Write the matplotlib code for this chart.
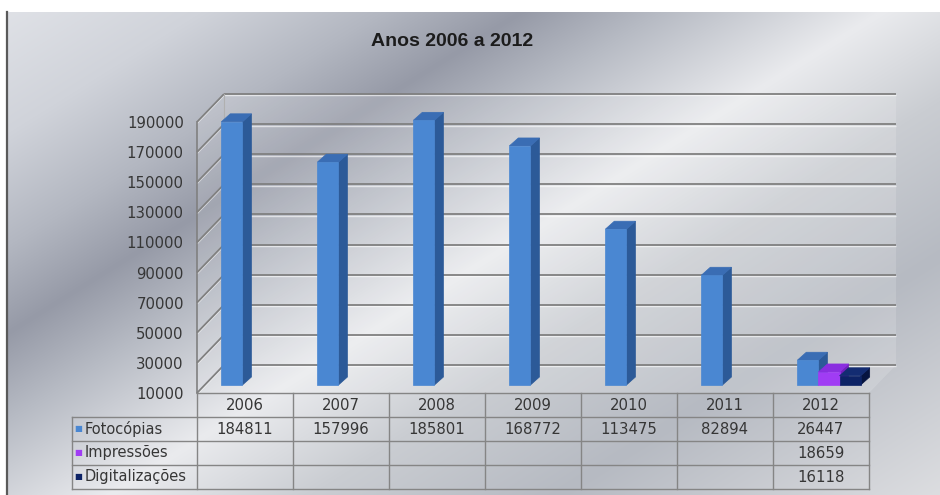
import numpy as np
import matplotlib
matplotlib.use('Agg')
import matplotlib.pyplot as plt
import matplotlib.transforms as mtransforms
from matplotlib.patches import Polygon, Rectangle
from matplotlib.lines import Line2D

# data
years = ['2006', '2007', '2008', '2009', '2010', '2011', '2012']
fotocopias = [184811, 157996, 185801, 168772, 113475, 82894, 26447]
impressoes = [None, None, None, None, None, None, 18659]
digitalizacoes = [None, None, None, None, None, None, 16118]
series_names = ['Fotocópias', 'Impressões', 'Digitalizações']
y_ticks = list(range(10000, 190001, 20000))

series = [fotocopias, impressoes, digitalizacoes]
# front, side, top colours for each series
face_colors = [
    ('#4a87d2', '#2c5a98', '#3a6db4'),
    ('#a03cf4', '#7420be', '#8a2ee0'),
    ('#0d2366', '#061440', '#132c72'),
]
text_color = '#363636'
grid_color = '#808080'

W, H = 940, 495
fig = plt.figure(figsize=(W / 100, H / 100), dpi=100)
fig.patch.set_facecolor('white')

# metallic backdrop: diagonal bands
bg = fig.add_axes([7 / W, 0, 1 - 7 / W, (H - 12) / H])
bg.axis('off')
xs = np.arange(7, W)
ys = np.arange(12, H)
gx, gy = np.meshgrid(xs, ys)
t = gx + 1.6 * gy
stops = [0, 220, 400, 540, 680, 900, 1100, 1350, 1740]
cols = ['#e1e3e8', '#d0d3da', '#b3b7c1', '#969aa7', '#b7bbc4',
        '#eaebee', '#cacdd2', '#b6bac2', '#dddee1']
rgb = np.array([matplotlib.colors.to_rgb(c) for c in cols])
img = np.dstack([np.interp(t, stops, rgb[:, k]) for k in range(3)])
bg.imshow(img, aspect='auto', extent=(0, 1, 0, 1), origin='upper')
bg.set_xlim(0, 1)
bg.set_ylim(0, 1)
fig.add_artist(Line2D([7 / W, 7 / W], [0, (H - 12) / H], color='#5a5a5a', lw=1.6))

fig.text(452 / W, 1 - 42 / H, 'Anos 2006 a 2012', ha='center', va='center',
         fontsize=14, fontweight='bold', family='Liberation Sans', color='#1c1c1c')

# plot area (front plane of the 3D box)
ax = fig.add_axes([197 / W, (H - 393) / H, 672 / W, 271 / H])
ax.set_xlim(-0.5, 6.5)
ax.set_ylim(10000, 190000)
ax.patch.set_visible(False)
for s in ax.spines.values():
    s.set_visible(False)
ax.set_xticks([])
ax.set_yticks(y_ticks)
ax.set_yticklabels([str(v) for v in y_ticks])
ax.tick_params(axis='y', length=0, pad=9.5, labelsize=10.7, labelcolor=text_color)

bb = ax.get_window_extent()
ux = bb.width / 7.0
uy = bb.height / 180000.0


def px(dx, dy):
    return dx / ux, dy / uy


WX, WY = px(27, 28)   # depth of the walls
BX, BY = px(8, 8)     # bars sit a little behind the front edge
DX, DY = px(9, 8)     # depth of each bar

x0, x1 = -0.5, 6.5
y0, y1 = 10000, 190000

# walls and floor
ax.add_patch(Rectangle((x0 + WX, y0 + WY), 7, 180000, facecolor='white',
                       alpha=0.15, lw=0, zorder=0.5, clip_on=False))
ax.add_patch(Polygon([(x0, y0), (x0 + WX, y0 + WY), (x0 + WX, y1 + WY), (x0, y1)],
                     facecolor='white', alpha=0.12, lw=0, zorder=0.5, clip_on=False))
ax.add_patch(Polygon([(x0, y0), (x1, y0), (x1 + WX, y0 + WY), (x0 + WX, y0 + WY)],
                     facecolor='white', alpha=0.15, lw=0, zorder=0.5, clip_on=False))

shine = mtransforms.offset_copy(ax.transData, fig=fig, x=0, y=-1.4, units='dots')
for v in y_ticks:
    for tr, c, lw, a in [(shine, 'white', 1.0, 0.6), (ax.transData, grid_color, 1.3, 1)]:
        ax.plot([x0 + WX, x1 + WX], [v + WY, v + WY], color=c, lw=lw, alpha=a,
                transform=tr, zorder=1, solid_capstyle='butt', clip_on=False)
        ax.plot([x0, x0 + WX], [v, v + WY], color=c, lw=lw, alpha=a,
                transform=tr, zorder=1, solid_capstyle='butt', clip_on=False)
ax.plot([x0, x0], [y0, y1], color=grid_color, lw=1.2, zorder=1, clip_on=False)
ax.plot([x0 + WX, x0 + WX], [y0 + WY, y1 + WY], color='#b0b0b0', lw=0.8,
        zorder=1, clip_on=False)

# 3D columns
bw = 0.22
offsets = [-bw, 0, bw]
for k, vals in enumerate(series):
    front, side, top = face_colors[k]
    xs_k, hs_k = [], []
    for i, v in enumerate(vals):
        if v is None:
            continue
        left = i + offsets[k] - bw / 2 + BX
        right = left + bw
        base = y0 + BY
        ttop = v + BY
        ax.add_patch(Polygon([(right, base), (right + DX, base + DY),
                              (right + DX, ttop + DY), (right, ttop)],
                             facecolor=side, edgecolor=side, lw=0.5,
                             zorder=3 + k, clip_on=False))
        ax.add_patch(Polygon([(left, ttop), (right, ttop),
                              (right + DX, ttop + DY), (left + DX, ttop + DY)],
                             facecolor=top, edgecolor=top, lw=0.5,
                             zorder=3 + k, clip_on=False))
        xs_k.append(i + offsets[k] + BX)
        hs_k.append(v - y0)
    bars = ax.bar(xs_k, hs_k, width=bw, bottom=y0 + BY, color=front,
                  edgecolor=front, lw=0.5, zorder=3.5 + k)
    for b in bars:
        b.set_clip_on(False)

# data table under the plot
tt = mtransforms.blended_transform_factory(ax.transData, ax.transAxes)
rh = 24 / bb.height
lab_w = 1.30
line_kw = dict(color='#858585', lw=1, transform=tt, clip_on=False, zorder=2)
ax.plot([x0, x1], [0, 0], **line_kw)
for r in range(1, 5):
    ax.plot([x0 - lab_w, x1], [-r * rh, -r * rh], **line_kw)
for i in range(8):
    ax.plot([x0 + i, x0 + i], [0, -4 * rh], **line_kw)
ax.plot([x0 - lab_w, x0 - lab_w], [-rh, -4 * rh], **line_kw)

txt_kw = dict(transform=tt, fontsize=10.7, color=text_color, clip_on=False,
              ha='center', va='center')
for i, yr in enumerate(years):
    ax.text(i, -0.5 * rh, yr, **txt_kw)
for k, vals in enumerate(series):
    yc = -(k + 1.5) * rh
    ax.text(x0 - lab_w + 0.02, yc, '■', transform=tt, fontsize=6,
            color=face_colors[k][0], ha='left', va='center', clip_on=False)
    ax.text(x0 - lab_w + 0.125, yc, series_names[k], transform=tt, fontsize=10.5,
            color=text_color, ha='left', va='center', clip_on=False)
    for i, v in enumerate(vals):
        if v is not None:
            ax.text(i, yc, str(v), **txt_kw)

fig.savefig('out.png', dpi=100)
